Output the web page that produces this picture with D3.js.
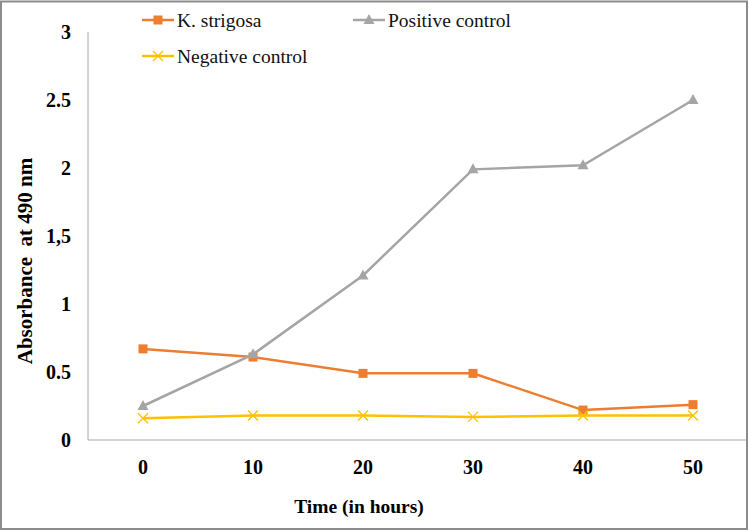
<!DOCTYPE html>
<html>
<head>
<meta charset="utf-8">
<script src="https://cdn.jsdelivr.net/npm/d3@7"></script>
<style>
  body { margin: 0; background: #fff; }
</style>
</head>
<body>
<div class="svgcontainer"></div>
<script>
// chart data
const hours = ['0', '10', '20', '30', '40', '50'];
const kStrigosa = [0.67, 0.61, 0.49, 0.49, 0.22, 0.26];
const positiveControl = [0.25, 0.63, 1.21, 1.99, 2.02, 2.50];
const negativeControl = [0.16, 0.18, 0.18, 0.17, 0.18, 0.18];
const yTicks = [0, 0.5, 1, 1.5, 2, 2.5, 3];
const yTickLabels = ['0', '0.5', '1', '1,5', '2', '2.5', '3'];

const series = [
    { name: 'K. strigosa', values: kStrigosa, color: '#ED7D31', marker: 'square' },
    { name: 'Positive control', values: positiveControl, color: '#A5A5A5', marker: 'triangle' },
    { name: 'Negative control', values: negativeControl, color: '#FFC000', marker: 'cross' }
];

const FONT = '"Liberation Serif", "Times New Roman", serif';
const width = 750, height = 531;
const plot = { left: 88, right: 748, top: 32, bottom: 440 };

const svg = d3.select('.svgcontainer')
    .append('svg')
    .attr('width', width)
    .attr('height', height)
    .attr('font-family', FONT);

// outer frame
svg.append('rect')
    .attr('x', 1).attr('y', 1.5)
    .attr('width', 746).attr('height', 527.5)
    .attr('fill', 'none')
    .attr('stroke', '#8c8c8c')
    .attr('stroke-width', 2);

const x = d3.scalePoint()
    .domain(hours)
    .range([plot.left, plot.right])
    .padding(0.5);

const y = d3.scaleLinear()
    .domain([0, 3])
    .range([plot.bottom, plot.top]);

// y axis line
svg.append('line')
    .attr('x1', plot.left).attr('x2', plot.left)
    .attr('y1', plot.top).attr('y2', plot.bottom)
    .attr('stroke', '#a6a6a6');

// x axis line
svg.append('line')
    .attr('x1', plot.left).attr('x2', 746)
    .attr('y1', plot.bottom).attr('y2', plot.bottom)
    .attr('stroke', '#a6a6a6');

// y tick labels
svg.selectAll('.ytick')
    .data(yTicks)
    .enter()
    .append('text')
    .attr('class', 'ytick')
    .attr('x', 71)
    .attr('y', d => y(d))
    .attr('dy', '0.35em')
    .attr('text-anchor', 'end')
    .attr('font-size', 20)
    .attr('font-weight', 'bold')
    .text((d, i) => yTickLabels[i]);

// x tick labels
svg.selectAll('.xtick')
    .data(hours)
    .enter()
    .append('text')
    .attr('class', 'xtick')
    .attr('x', d => x(d))
    .attr('y', 467)
    .attr('dy', '0.35em')
    .attr('text-anchor', 'middle')
    .attr('font-size', 20)
    .attr('font-weight', 'bold')
    .text(d => d);

// axis titles
svg.append('text')
    .attr('transform', 'translate(25, 261) rotate(-90)')
    .attr('text-anchor', 'middle')
    .attr('dy', '0.35em')
    .attr('font-size', 21)
    .attr('font-weight', 'bold')
    .attr('xml:space', 'preserve')
    .text('Absorbance  at 490 nm');

svg.append('text')
    .attr('x', 359)
    .attr('y', 506)
    .attr('dy', '0.35em')
    .attr('text-anchor', 'middle')
    .attr('font-size', 19.5)
    .attr('font-weight', 'bold')
    .text('Time (in hours)');

const line = d3.line()
    .x((d, i) => x(hours[i]))
    .y(d => y(d));

function drawMarker(g, type, color) {
    if (type === 'square') {
        g.append('rect')
            .attr('x', -4.5).attr('y', -4.5)
            .attr('width', 9).attr('height', 9)
            .attr('fill', color);
    } else if (type === 'triangle') {
        g.append('path')
            .attr('d', 'M0,-6 L5.5,4 L-5.5,4 Z')
            .attr('fill', color);
    } else {
        g.append('path')
            .attr('d', 'M-5,-5 L5,5 M-5,5 L5,-5')
            .attr('stroke', color)
            .attr('stroke-width', 1.3);
    }
}

// lines and markers
series.forEach(s => {
    svg.append('path')
        .datum(s.values)
        .attr('fill', 'none')
        .attr('stroke', s.color)
        .attr('stroke-width', 2.5)
        .attr('d', line);

    svg.selectAll('.pt-' + s.marker)
        .data(s.values)
        .enter()
        .append('g')
        .attr('class', 'pt-' + s.marker)
        .attr('transform', (d, i) => `translate(${x(hours[i])}, ${y(d)})`)
        .each(function () { drawMarker(d3.select(this), s.marker, s.color); });
});

// legend
const legendPos = [[142, 20], [353, 20], [142, 56]];
series.forEach((s, i) => {
    const [lx, ly] = legendPos[i];
    const g = svg.append('g').attr('transform', `translate(${lx}, ${ly})`);
    g.append('line')
        .attr('x1', 0).attr('x2', 32)
        .attr('y1', 0).attr('y2', 0)
        .attr('stroke', s.color)
        .attr('stroke-width', 2.5);
    const m = g.append('g').attr('transform', 'translate(16, 0)');
    drawMarker(m, s.marker, s.color);
    g.append('text')
        .attr('x', 35)
        .attr('y', 0)
        .attr('dy', '0.35em')
        .attr('font-size', 19.5)
        .attr('fill', '#111')
        .text(s.name);
});
</script>
</body>
</html>
